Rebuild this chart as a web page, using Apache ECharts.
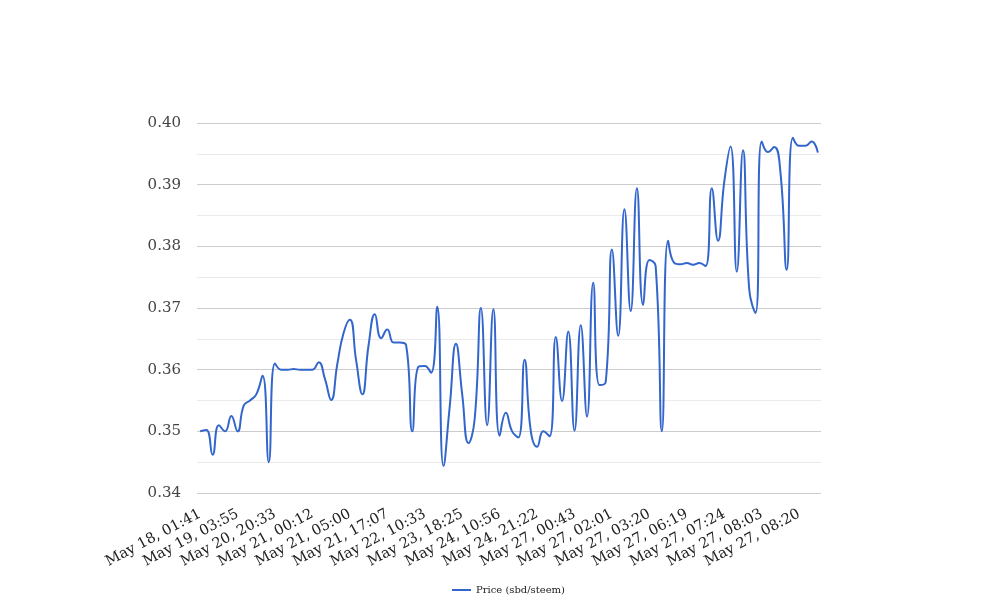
<!DOCTYPE html>
<html>
<head>
<meta charset="utf-8">
<script src="https://cdn.jsdelivr.net/npm/echarts@6/dist/echarts.min.js"></script>
<style>
html,body{margin:0;padding:0;background:#fff;}
#chart{width:1008px;height:616px;}
</style>
</head>
<body>
<div id="chart"></div>
<script>
// Tick labels shown on the x axis (every 6th point)
const tickLabels = [
  'May 18, 01:41', 'May 19, 03:55', 'May 20, 20:33', 'May 21, 00:12', 'May 21, 05:00',
  'May 21, 17:07', 'May 22, 10:33', 'May 23, 18:25', 'May 24, 10:56', 'May 24, 21:22',
  'May 27, 00:43', 'May 27, 02:01', 'May 27, 03:20', 'May 27, 06:19', 'May 27, 07:24',
  'May 27, 08:03', 'May 27, 08:20'
];
const labelEvery = 6;

// Price (sbd/steem)
const prices = [
  0.3500, 0.3502, 0.3462, 0.3510, 0.3500, 0.3525, 0.3500, 0.3542, 0.3550, 0.3560,
  0.3590, 0.3450, 0.3610, 0.3600, 0.3600, 0.3601, 0.3600, 0.3600, 0.3600, 0.3612,
  0.3585, 0.3551, 0.3610, 0.3660, 0.3681, 0.3615, 0.3560, 0.3640, 0.3690, 0.3651,
  0.3665, 0.3644, 0.3644, 0.3640, 0.3500, 0.3605, 0.3606, 0.3595, 0.3702, 0.3444,
  0.3540, 0.3642, 0.3560, 0.3481, 0.3520, 0.3700, 0.3510, 0.3698, 0.3493, 0.3530,
  0.3500, 0.3490, 0.3616, 0.3500, 0.3475, 0.3500, 0.3492, 0.3653, 0.3549, 0.3662,
  0.3501, 0.3672, 0.3524, 0.3741, 0.3575, 0.3580, 0.3795, 0.3655, 0.3860, 0.3695,
  0.3894, 0.3705, 0.3778, 0.3768, 0.3500, 0.3809, 0.3773, 0.3771, 0.3773, 0.3770,
  0.3773, 0.3768, 0.3894, 0.3809, 0.3905, 0.3962, 0.3759, 0.3956, 0.3730, 0.3692,
  0.3970, 0.3953, 0.3961, 0.3920, 0.3762, 0.3976, 0.3963, 0.3963, 0.3970, 0.3952
];

const yTicks = { min: 0.34, max: 0.40, step: 0.01 };
const seriesName = 'Price (sbd/steem)';

const categories = prices.map((_, i) => (i % labelEvery === 0 ? tickLabels[i / labelEvery] : ''));

const chart = echarts.init(document.getElementById('chart'), null, { renderer: 'canvas' });
const font = 'DejaVu Serif';
chart.setOption({
  backgroundColor: '#ffffff',
  animation: false,
  textStyle: { fontFamily: font },
  grid: { left: 197, right: 187, top: 123, bottom: 123, containLabel: false },
  legend: {
    data: [seriesName],
    left: 447, top: 580,
    icon: 'rect', itemWidth: 19, itemHeight: 2, itemGap: 5,
    textStyle: { fontFamily: font, fontSize: 10, color: '#222' }
  },
  xAxis: {
    type: 'category',
    data: categories,
    boundaryGap: true,
    axisLine: { show: false },
    axisTick: { show: false },
    axisLabel: {
      interval: labelEvery - 1,
      rotate: 28,
      margin: 20,
      fontFamily: font,
      fontSize: 14.5,
      color: '#222'
    },
    splitLine: { show: false }
  },
  yAxis: {
    type: 'value',
    min: yTicks.min, max: yTicks.max, interval: yTicks.step,
    axisLine: { show: false },
    axisTick: { show: false },
    axisLabel: {
      margin: 16,
      fontFamily: font,
      fontSize: 15,
      color: '#444',
      formatter: v => v.toFixed(2)
    },
    splitLine: { show: true, lineStyle: { color: '#cccccc', width: 1 } },
    minorTick: { show: false, splitNumber: 2 },
    minorSplitLine: { show: true, lineStyle: { color: '#ebebeb', width: 1 } }
  },
  series: [{
    name: seriesName,
    type: 'line',
    data: prices,
    smooth: 0.5,
    showSymbol: false,
    symbol: 'none',
    lineStyle: { color: '#3366cc', width: 2 },
    itemStyle: { color: '#3366cc' }
  }]
});
</script>
</body>
</html>
